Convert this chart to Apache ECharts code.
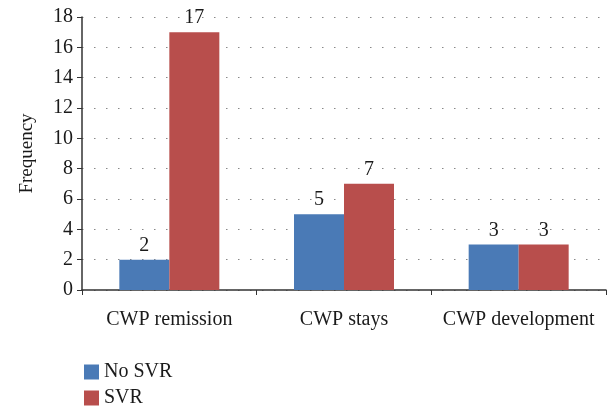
<!DOCTYPE html>
<html>
<head>
<meta charset="utf-8">
<script src="https://cdn.jsdelivr.net/npm/echarts@6/dist/echarts.min.js"></script>
<style>
  html, body { margin: 0; padding: 0; background: #fff; }
  #chartBox { width: 611px; height: 406px; }
</style>
</head>
<body>
<div id="chartBox"></div>
<script>
const categories = ['CWP remission', 'CWP stays', 'CWP development'];
const noSvr = [2, 5, 3];
const svr = [17, 7, 3];
const yTicks = [0, 2, 4, 6, 8, 10, 12, 14, 16, 18];

const font = 'Liberation Serif';
const txt = '#1a1a1a';
const chart = echarts.init(document.getElementById('chartBox'));

function legendFor(name, top) {
    return {
        left: 79,
        top: top,
        itemWidth: 15,
        itemHeight: 15,
        icon: 'rect',
        selectedMode: false,
        textStyle: { fontFamily: font, fontSize: 20, color: txt },
        data: [name]
    };
}

chart.setOption({
    animation: false,
    textStyle: { fontFamily: font },
    color: ['#4a7ab6', '#b84e4c'],
    grid: { left: 82, right: 5, top: 17, bottom: 116 },
    legend: [legendFor('No SVR', 357), legendFor('SVR', 383)],
    xAxis: {
        type: 'category',
        data: categories,
        axisLine: { lineStyle: { color: '#333', width: 1.5 } },
        axisTick: { show: true, interval: 0, length: 5, lineStyle: { color: '#333' } },
        axisLabel: { interval: 0, fontFamily: font, fontSize: 20, color: txt, margin: 20 }
    },
    yAxis: {
        type: 'value',
        min: yTicks[0],
        max: yTicks[yTicks.length - 1],
        interval: 2,
        name: 'Frequency',
        nameLocation: 'middle',
        nameGap: 45,
        nameTextStyle: { fontFamily: font, fontSize: 19, color: txt },
        axisLine: { show: true, lineStyle: { color: '#333', width: 1.5 } },
        axisTick: { show: true, length: 5, inside: false, lineStyle: { color: '#333' } },
        axisLabel: { fontFamily: font, fontSize: 20, color: txt, margin: 9 },
        splitLine: { lineStyle: { color: '#888', type: [1.5, 10.5] } }
    },
    series: [
        {
            name: 'No SVR',
            type: 'bar',
            barWidth: 50,
            barGap: '0%',
            data: noSvr,
            label: { show: true, position: 'top', fontFamily: font, fontSize: 20, color: txt, distance: 4 }
        },
        {
            name: 'SVR',
            type: 'bar',
            barWidth: 50,
            data: svr,
            label: { show: true, position: 'top', fontFamily: font, fontSize: 20, color: txt, distance: 4 }
        }
    ]
});
</script>
</body>
</html>
